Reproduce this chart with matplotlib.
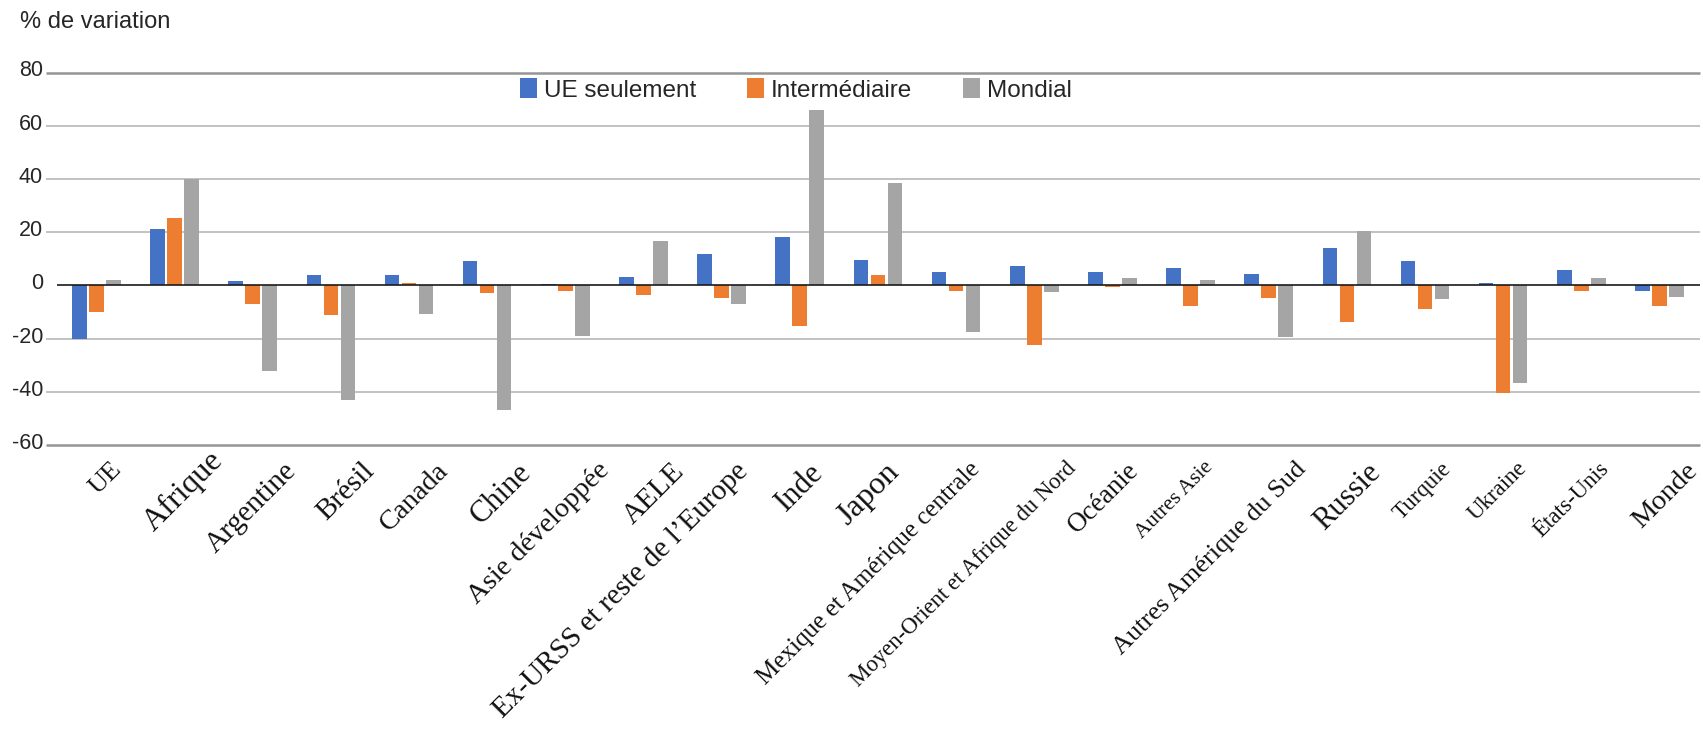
import matplotlib
matplotlib.use("Agg")
import matplotlib.pyplot as plt
import matplotlib.transforms as mtransforms
import numpy as np

# Regions and scenario results (% change)
regions = [
    "UE", "Afrique", "Argentine", "Brésil", "Canada", "Chine",
    "Asie développée", "AELE", "Ex-URSS et reste de l\u2019Europe", "Inde",
    "Japon", "Mexique et Amérique centrale", "Moyen-Orient et Afrique du Nord",
    "Océanie", "Autres Asie", "Autres Amérique du Sud", "Russie", "Turquie",
    "Ukraine", "États-Unis", "Monde",
]
ue_seulement = [-20, 21, 1.5, 3.8, 3.8, 9, 0.6, 3, 11.7, 18.2, 9.4, 5.2, 7.1,
                5.2, 6.7, 4.1, 14, 9, 1, 5.6, -2]
intermediaire = [-10.1, 25.3, -6.9, -11, 1, -2.9, -2, -3.5, -4.8, -15.2, 3.8,
                 -2.2, -22.3, -0.8, -7.9, -4.6, -13.8, -8.7, -40.3, -2.2, -7.9]
mondial = [2, 40, -32, -43, -10.6, -47, -19, 16.5, -7, 66, 38.5, -17.5, -2.6,
           2.9, 1.9, -19.5, 20.5, -5, -36.8, 2.9, -4.2]

series_names = ["UE seulement", "Intermédiaire", "Mondial"]
colors = ["#4472C4", "#ED7D31", "#A5A5A5"]
yticks = [80, 60, 40, 20, 0, -20, -40, -60]

# Typesetting of the rotated category labels: font size, horizontal
# nudge of the label end (px) and vertical nudge (px)
label_sizes = [19, 23, 21, 21, 20.5, 22, 20.5, 21, 21, 22, 23, 18, 16.4,
               19.5, 15.5, 19, 22, 16.5, 16.5, 16.5, 20.5]
label_dx = [-17, 3, 0, -1, -4, -1, 1, -3, -18, -22, -24, -18, 0, -17, -18,
            -5, -12, -16, -18, -14, -6]
label_dy = [0, -12, 0, 0, 0, 0, 0, 0, 0, 0, 0, 0, 0, 0, 0, 0, 0, 0, 0, 0, 0]

W, H = 1703, 730
fig = plt.figure(figsize=(W / 100, H / 100), dpi=100)
ax_left, ax_right = 57, 1700
ax_top, ax_bottom = 72.5, 445
ax = fig.add_axes([ax_left / W, 1 - ax_bottom / H,
                   (ax_right - ax_left) / W, (ax_bottom - ax_top) / H])

x = np.arange(len(regions))
offset = 0.2175
bw = 0.186
for k, (vals, col) in enumerate(zip([ue_seulement, intermediaire, mondial], colors)):
    ax.bar(x + (k - 1) * offset, vals, width=bw, color=col, label=series_names[k],
           zorder=3)

ax.set_xlim(-0.503, 20.518)
ax.set_ylim(-60, 80)

# Horizontal gridlines, outer ones slightly darker
for v in yticks:
    if v == 0:
        continue
    outer = v in (80, -60)
    ax.hlines(v, -0.65, 20.518, colors="#959595" if outer else "#b8b8b8",
              linewidth=1.8 if outer else 1.2, clip_on=False, zorder=1)
ax.axhline(0, color="#1a1a1a", linewidth=1.2, zorder=4)

for s in ax.spines.values():
    s.set_visible(False)

ax.set_yticks(yticks)
ax.set_yticklabels([str(v) for v in yticks], fontsize=15.5, color="#262626",
                   family="Liberation Sans")
ax.tick_params(axis="y", length=0, pad=10)
lift = mtransforms.ScaledTranslation(0, 4 / 100, fig.dpi_scale_trans)
for t in ax.get_yticklabels():
    t.set_transform(t.get_transform() + lift)
ax.set_xticks([])

# Rotated category labels below the plot
trans = mtransforms.blended_transform_factory(ax.transData, ax.transAxes)
slot = (ax_right - ax_left) / (20.518 + 0.503)
for i, name in enumerate(regions):
    xa = i + (31 + label_dx[i]) / slot
    ya = (ax_bottom - 458 - label_dy[i]) / (ax_bottom - ax_top)
    ax.text(xa, ya, name, transform=trans, rotation=45,
            rotation_mode="anchor", ha="right", va="top",
            fontsize=label_sizes[i], family="Liberation Serif",
            color="#111111")

fig.text(19.5 / W, 1 - 22 / H, "% de variation", fontsize=17,
         family="Liberation Sans", color="#262626", ha="left", va="center")

leg = ax.legend(loc="center", bbox_to_anchor=(796 / W, 1 - 90 / H),
                bbox_transform=fig.transFigure, ncol=3, frameon=False,
                prop={"family": "Liberation Sans", "size": 17.5},
                handlelength=0.68, handleheight=0.85, handletextpad=0.3,
                columnspacing=2.1, borderpad=0, labelcolor="#262626")

fig.savefig("out.png", dpi=100)
